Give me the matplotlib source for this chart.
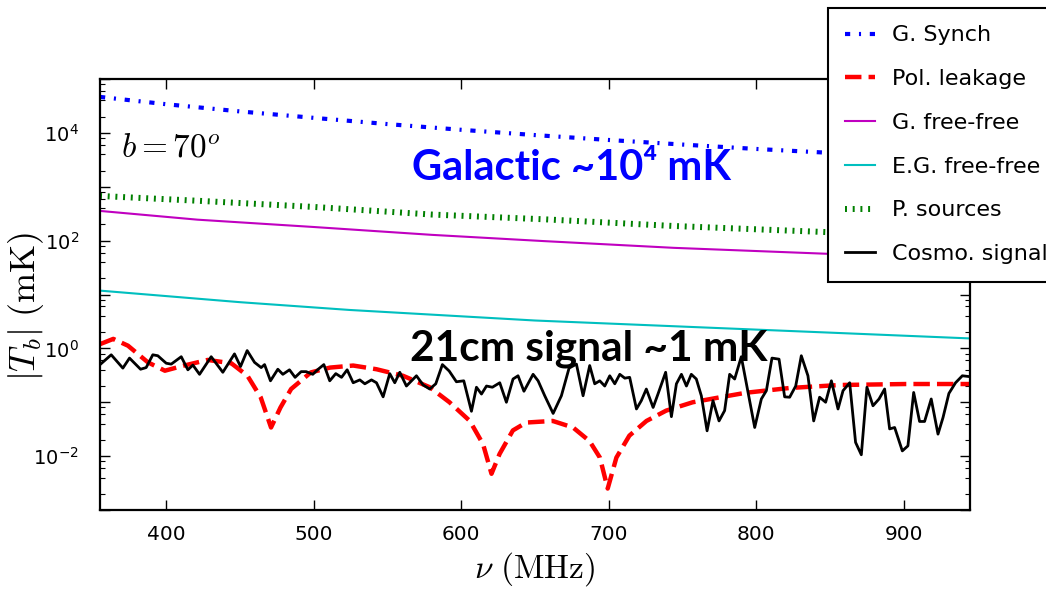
import matplotlib
matplotlib.use("Agg")
import matplotlib.pyplot as plt
import matplotlib.ticker as mticker
import numpy as np

# ---- values (frequency in MHz, |T_b| in mK) ----
synch_nu = [355, 400, 450, 500, 550, 600, 650, 700, 750, 800, 845, 900, 945]
synch_t = [46500, 34000, 25000, 19000, 14550, 11400, 9100, 7380, 6070, 5030, 4330, 3620, 3180]

psrc_nu = [355, 421, 500, 580, 656, 744, 845, 945]
psrc_t = [675, 550, 422, 305, 249, 187, 145, 114]

gff_nu = [355, 421, 500, 580, 656, 744, 848, 945]
gff_t = [356, 245, 179, 128, 98, 73.5, 57, 45.5]

egff_nu = [355, 360, 450, 524, 650, 762, 850, 945]
egff_t = [11.8, 11.5, 7.2, 5.17, 3.29, 2.46, 1.96, 1.53]

pol_nu = [355, 358, 364, 374, 387.5, 399, 412, 428, 444, 455, 464, 471, 477.4,
          484.6, 498, 511, 526.7, 542.5, 560.5, 578.6, 592, 605.8, 614.8, 620.5,
          626, 635, 644, 662, 675.8, 687, 694, 699.3, 705.2, 714, 725.6, 739,
          757, 775, 793, 822.7, 856.6, 901.8, 945]
pol_t = [1.2, 1.29, 1.5, 1.12, 0.55, 0.385, 0.48, 0.61, 0.53, 0.31, 0.123, 0.034,
         0.08, 0.176, 0.358, 0.44, 0.48, 0.41, 0.31, 0.19, 0.10, 0.045, 0.0166,
         0.0047, 0.011, 0.03, 0.042, 0.045, 0.034, 0.019, 0.0094, 0.0025, 0.0094,
         0.024, 0.045, 0.07, 0.1, 0.123, 0.15, 0.184, 0.209, 0.218, 0.218]

cosmo_nu = [355.4, 362.6, 370.5, 375.0, 382.5, 386.3, 390.8, 394.2, 399.9, 403.3,
            410.1, 414.6, 418.0, 422.5, 430.4, 438.3, 446.2, 450.3, 454.8, 459.8,
            464.3, 466.6, 470.6, 475.6, 479.0, 483.5, 487.3, 491.4, 494.8, 499.3,
            502.5, 506.8, 510.8, 514.9, 518.8, 522.6, 526.7, 531.2, 534.6, 539.1,
            542.5, 547.0, 551.5, 554.9, 558.3, 562.8, 569.6, 574.1, 578.6, 582.7,
            587.2, 591.8, 596.7, 601.7, 606.9, 610.3, 613.7, 617.1, 621.1, 626.1,
            630.6, 635.1, 638.5, 642.5, 648.7, 652.1, 656.6, 662.3, 667.9, 673.1,
            678.1, 682.6, 687.1, 690.5, 693.9, 697.3, 700.7, 704.1, 707.5, 710.9,
            714.2, 718.8, 722.1, 725.5, 730.1, 733.4, 738.6, 742.5, 745.9, 749.3,
            752.7, 756.0, 759.4, 762.8, 766.7, 770.7, 774.8, 778.6, 782.0, 785.4,
            789.9, 799.0, 803.5, 806.9, 810.7, 815.5, 819.3, 822.7, 826.8, 830.6,
            835.1, 839.0, 843.0, 847.1, 851.0, 855.5, 858.9, 863.4, 867.4, 871.3,
            875.1, 879.2, 883.3, 887.1, 890.5, 893.9, 899.1, 902.9, 906.8, 910.8,
            914.2, 918.7, 923.3, 926.7, 930.7, 935.2, 939.8, 944.3]
cosmo_t = [0.51, 0.76, 0.43, 0.66, 0.41, 0.44, 0.76, 0.73, 0.53, 0.51,
           0.70, 0.40, 0.49, 0.33, 0.70, 0.36, 0.79, 0.46, 0.91, 0.55,
           0.44, 0.50, 0.25, 0.41, 0.33, 0.40, 0.29, 0.37, 0.37, 0.33,
           0.40, 0.50, 0.25, 0.34, 0.29, 0.40, 0.23, 0.26, 0.22, 0.26,
           0.23, 0.126, 0.34, 0.23, 0.36, 0.20, 0.31, 0.21, 0.176, 0.22,
           0.50, 0.38, 0.24, 0.25, 0.068, 0.19, 0.142, 0.20, 0.19, 0.23,
           0.10, 0.27, 0.31, 0.16, 0.33, 0.25, 0.132, 0.062, 0.132, 0.43,
           0.51, 0.132, 0.48, 0.22, 0.25, 0.20, 0.31, 0.22, 0.33, 0.28,
           0.29, 0.075, 0.107, 0.176, 0.08, 0.142, 0.36, 0.054, 0.22, 0.33,
           0.20, 0.33, 0.27, 0.132, 0.0295, 0.107, 0.045, 0.07, 0.33, 0.27,
           0.70, 0.034, 0.115, 0.164, 0.66, 0.63, 0.126, 0.124, 0.20, 0.73,
           0.31, 0.045, 0.124, 0.10, 0.25, 0.075, 0.164, 0.23, 0.018, 0.0106,
           0.19, 0.086, 0.115, 0.176, 0.032, 0.034, 0.0125, 0.0155, 0.152, 0.044,
           0.044, 0.115, 0.0256, 0.052, 0.146, 0.23, 0.31, 0.30]

labels = ["G. Synch", "Pol. leakage", "G. free-free", "E.G. free-free",
          "P. sources", "Cosmo. signal"]

plt.rcParams["font.family"] = "DejaVu Sans"
plt.rcParams["axes.linewidth"] = 1.6

fig = plt.figure(figsize=(10.46, 5.95), dpi=100)
ax = fig.add_axes([100 / 1046, 1 - 510 / 595, 870 / 1046, 431 / 595])

ax.plot(synch_nu, synch_t, color="#0000ff", lw=3.0,
        linestyle=(0, (1.25, 2.1, 0.5, 2.1)), label=labels[0])
ax.plot(pol_nu, pol_t, color="#ff0000", lw=3.2, linestyle="--", label=labels[1])
ax.plot(gff_nu, gff_t, color="#c000c0", lw=1.5, label=labels[2])
ax.plot(egff_nu, egff_t, color="#00bfbf", lw=1.5, label=labels[3])
ax.plot(psrc_nu, psrc_t, color="#008000", lw=4.3,
        linestyle=(0, (0.33, 0.96)), label=labels[4])
ax.plot(cosmo_nu, cosmo_t, color="black", lw=2.0, label=labels[5])

ax.set_yscale("log")
ax.set_xlim(355, 945)
ax.set_ylim(1e-3, 1e5)

# labels only on every second decade, as in the original
ax.yaxis.set_major_locator(mticker.FixedLocator([10.0 ** k for k in range(-3, 6)]))
ax.yaxis.set_major_formatter(mticker.FuncFormatter(
    lambda v, p: (r"$10^{%d}$" % round(np.log10(v))) if round(np.log10(v)) % 2 == 0
    and -2 <= round(np.log10(v)) <= 4 else ""))
ax.yaxis.set_minor_locator(mticker.LogLocator(base=10, subs=[2, 4, 6, 8], numticks=20))
ax.yaxis.set_minor_formatter(mticker.NullFormatter())
ax.xaxis.set_major_locator(mticker.FixedLocator([400, 500, 600, 700, 800, 900]))

ax.tick_params(which="both", direction="in", top=True, right=True)
ax.tick_params(which="major", length=7, width=1.0)
ax.tick_params(which="minor", length=3.5, width=0.8)
ax.tick_params(axis="x", labelsize=14.5, pad=11)
ax.tick_params(axis="y", labelsize=14, pad=15)

ax.set_xlabel(r"$\nu\ \mathrm{(MHz)}$", fontsize=24, math_fontfamily="cm", labelpad=4)
ax.set_ylabel(r"$|T_b|\ \mathrm{(mK)}$", fontsize=26, math_fontfamily="cm")
ax.yaxis.set_label_coords(-0.062, 0.472)

ax.text(0.024, 0.842, r"$b{=}70^o$", transform=ax.transAxes, fontsize=24,
        math_fontfamily="cm", ha="left", va="center")
ax.text(0.3586, 0.7935, "Galactic ~10\u2074 mK", transform=ax.transAxes,
        fontsize=30, fontweight="bold", color="#0000ff", family=["Lato", "DejaVu Sans"],
        ha="left", va="center")
ax.text(0.3563, 0.3735, "21cm signal ~1 mK", transform=ax.transAxes,
        fontsize=30.5, fontweight="bold", color="black", family=["Lato", "DejaVu Sans"],
        ha="left", va="center")

leg = fig.legend(loc="upper left", bbox_to_anchor=(828 / 1046, 1 - 8 / 595),
                 borderaxespad=0, fontsize=16, handlelength=1.35,
                 handletextpad=0.75, labelspacing=1.07, borderpad=0.78,
                 fancybox=False, framealpha=1, edgecolor="black")
leg.get_frame().set_linewidth(1.5)

fig.savefig("out.png", dpi=100)
